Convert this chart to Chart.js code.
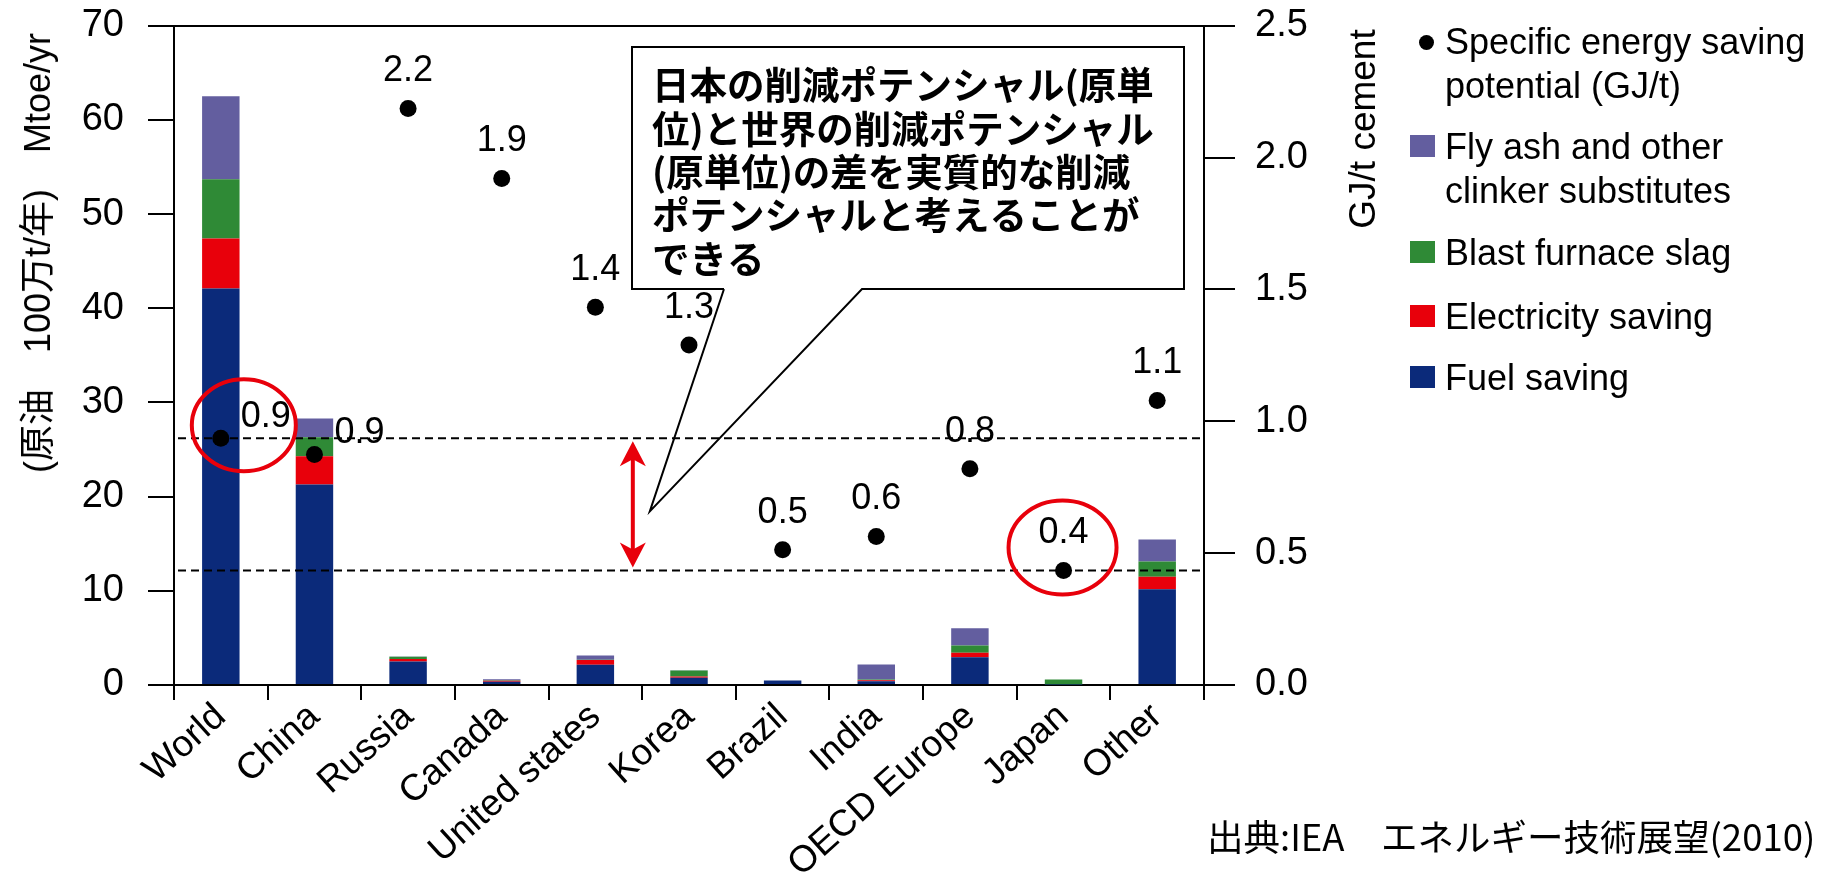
<!DOCTYPE html>
<html lang="ja">
<head>
<meta charset="utf-8">
<title>セメント産業の省エネルギーポテンシャル</title>
<script src="https://cdn.jsdelivr.net/npm/chart.js@4.4.1/dist/chart.umd.min.js"></script>
<style>
  html, body { margin: 0; padding: 0; background: #fff; }
  #wrap { position: relative; width: 1825px; height: 881px; overflow: hidden; background: #fff; }
  #chart { position: absolute; left: 0; top: 0; }
  .axis-title {
    position: absolute; white-space: nowrap; line-height: 1; color: #000;
    font-family: "Liberation Sans", "Noto Sans CJK JP", sans-serif;
    transform: translate(-50%, -50%) rotate(-90deg);
  }
  #legend { position: absolute; left: 0; top: 0; width: 1825px; height: 881px; pointer-events: none; }
  .lg-item { position: absolute; left: 1445px; font: 36px/44px "Liberation Sans", sans-serif; color: #000; white-space: nowrap; }
  .lg-mark { position: absolute; }
  #source {
    position: absolute; left: 1207px; top: 809px; white-space: nowrap; line-height: 1;
    font: 36.5px "Noto Sans CJK JP", sans-serif; color: #000;
  }
</style>
</head>
<body>
<div id="wrap">
  <canvas id="chart" width="1825" height="881"></canvas>
  <div id="leftTitle" class="axis-title" style="left:38px; top:253px; font-size:36px;"></div>
  <div id="rightTitle" class="axis-title" style="left:1362px; top:129px; font-size:37px;"></div>
  <div id="legend"></div>
  <div id="source"></div>
</div>
<script>
// Countries / regions on the category axis
const categories = ['World', 'China', 'Russia', 'Canada', 'United states', 'Korea',
                    'Brazil', 'India', 'OECD Europe', 'Japan', 'Other'];

// Saving potential by measure, Mtoe/yr (stacked bars, bottom to top)
const fuelSaving        = [42.1, 21.3, 2.50, 0.35, 2.15, 0.76, 0.48, 0.40, 2.95, 0.05, 10.17];
const electricitySaving = [ 5.3,  3.0, 0.25, 0.10, 0.50, 0.14, 0.00, 0.10, 0.47, 0.00,  1.32];
const blastFurnaceSlag  = [ 6.3,  2.0, 0.25, 0.05, 0.03, 0.64, 0.00, 0.08, 0.77, 0.53,  1.61];
const flyAshSubstitutes = [ 8.8,  2.0, 0.03, 0.10, 0.45, 0.02, 0.00, 1.60, 1.84, 0.00,  2.35];

// Specific energy saving potential, GJ/t cement (dots, right axis)
const specificSaving = [0.936, 0.874, 2.186, 1.921, 1.432, 1.289, 0.513, 0.563, 0.820, 0.434, 1.079];

// Axis ticks
const leftTicks  = [0, 10, 20, 30, 40, 50, 60, 70];
const rightTicks = [0, 0.5, 1.0, 1.5, 2.0, 2.5];

// Series names
const seriesNames = {
  specific: 'Specific energy saving\npotential (GJ/t)',
  flyAsh:   'Fly ash and other\nclinker substitutes',
  slag:     'Blast furnace slag',
  elec:     'Electricity saving',
  fuel:     'Fuel saving'
};

// Texts
const leftAxisTitle  = '(原油　100万t/年)　Mtoe/yr';
const rightAxisTitle = 'GJ/t cement';
const sourceText     = '出典:IEA　エネルギー技術展望(2010)';
const calloutLines   = [
  '日本の削減ポテンシャル(原単',
  '位)と世界の削減ポテンシャル',
  '(原単位)の差を実質的な削減',
  'ポテンシャルと考えることが',
  'できる'
];
// The gap between these two specific-saving values is highlighted
const gapFrom = 'World';
const gapTo   = 'Japan';

// Colours
const colors = {
  fuel:   '#0b2a7a',
  elec:   '#e8000b',
  slag:   '#2f8a36',
  flyAsh: '#635e9f',
  dot:    '#000000',
  mark:   '#e8000b'
};

const FONT = '"Liberation Sans", Arial, sans-serif';
const CJK_BOLD = 'bold 37.5px "Noto Sans CJK JP", sans-serif';

// Value labels beside the first two dots, above the others
const labelBeside = new Set(['World', 'China']);

const annotations = {
  id: 'annotations',
  afterDatasetsDraw(chart) {
    const { ctx, chartArea, scales } = chart;
    const y2 = scales.y2;
    const dots = chart.getDatasetMeta(0).data;

    // dashed reference lines through the two compared dots
    ctx.save();
    ctx.strokeStyle = '#000';
    ctx.lineWidth = 2;
    ctx.setLineDash([8, 5]);
    [gapFrom, gapTo].forEach(name => {
      const py = y2.getPixelForValue(specificSaving[categories.indexOf(name)]);
      ctx.beginPath();
      ctx.moveTo(chartArea.left + 4, py);
      ctx.lineTo(chartArea.right, py);
      ctx.stroke();
    });
    ctx.restore();

    // value labels
    ctx.save();
    ctx.fillStyle = '#000';
    ctx.font = '36px ' + FONT;
    ctx.textBaseline = 'middle';
    dots.forEach((pt, i) => {
      const txt = specificSaving[i].toFixed(1);
      if (labelBeside.has(categories[i])) {
        ctx.textAlign = 'left';
        ctx.fillText(txt, pt.x + 20, pt.y - 21);
      } else {
        ctx.textAlign = 'center';
        ctx.fillText(txt, pt.x, pt.y - 37);
      }
    });
    ctx.restore();
  },
  afterDraw(chart) {
    const { ctx, scales } = chart;
    const x = scales.x, y2 = scales.y2;
    const dots = chart.getDatasetMeta(0).data;
    const iFrom = categories.indexOf(gapFrom);
    const iTo = categories.indexOf(gapTo);
    const yFrom = y2.getPixelForValue(specificSaving[iFrom]);
    const yTo = y2.getPixelForValue(specificSaving[iTo]);

    // red rings around the compared dots
    ctx.save();
    ctx.strokeStyle = colors.mark;
    ctx.lineWidth = 4;
    ctx.beginPath();
    ctx.ellipse(dots[iFrom].x + 23, dots[iFrom].y - 13, 52, 46, 0, 0, Math.PI * 2);
    ctx.stroke();
    ctx.beginPath();
    ctx.ellipse(dots[iTo].x - 1, dots[iTo].y - 23, 54, 47, 0, 0, Math.PI * 2);
    ctx.stroke();

    // double-headed arrow spanning the gap
    const ax = x.getPixelForValue(4) + 0.4 * (x.getPixelForValue(5) - x.getPixelForValue(4));
    const top = yFrom + 3, bot = yTo - 3;
    const headL = 25, headW = 13, notch = 18;
    ctx.beginPath();
    ctx.moveTo(ax, top + notch - 2);
    ctx.lineTo(ax, bot - notch + 2);
    ctx.stroke();
    ctx.fillStyle = colors.mark;
    ctx.beginPath();
    ctx.moveTo(ax, top);
    ctx.lineTo(ax + headW, top + headL);
    ctx.lineTo(ax, top + notch);
    ctx.lineTo(ax - headW, top + headL);
    ctx.closePath();
    ctx.fill();
    ctx.beginPath();
    ctx.moveTo(ax, bot);
    ctx.lineTo(ax + headW, bot - headL);
    ctx.lineTo(ax, bot - notch);
    ctx.lineTo(ax - headW, bot - headL);
    ctx.closePath();
    ctx.fill();
    ctx.restore();

    // speech-bubble callout
    const bx0 = 632, by0 = 47, bx1 = 1184, by1 = 289;
    const baseL = 724, baseR = 862;
    const tipX = ax + 17, tipY = (yFrom + yTo) / 2 + 7;
    ctx.save();
    ctx.fillStyle = '#fff';
    ctx.fillRect(bx0, by0, bx1 - bx0, by1 - by0);
    ctx.strokeStyle = '#000';
    ctx.lineWidth = 2;
    ctx.beginPath();
    ctx.moveTo(baseL, by1);
    ctx.lineTo(bx0, by1);
    ctx.lineTo(bx0, by0);
    ctx.lineTo(bx1, by0);
    ctx.lineTo(bx1, by1);
    ctx.lineTo(baseR, by1);
    ctx.lineTo(tipX, tipY);
    ctx.lineTo(baseL, by1);
    ctx.stroke();
    ctx.fillStyle = '#000';
    ctx.font = CJK_BOLD;
    ctx.textAlign = 'left';
    ctx.textBaseline = 'middle';
    calloutLines.forEach((line, i) => {
      ctx.fillText(line, bx0 + 20, by0 + 38 + i * 43.4);
    });
    ctx.restore();
  }
};

const tickGrid = (len) => ({
  drawOnChartArea: false,
  drawTicks: true,
  tickLength: len,
  color: '#000',
  tickColor: '#000',
  lineWidth: 2
});

// keep the value axes flush with the plot area (no extra label padding)
const flushVertical = (width) => (s) => { s.width = width; s.paddingTop = 0; s.paddingBottom = 0; };

new Chart(document.getElementById('chart'), {
  type: 'bar',
  data: {
    labels: categories,
    datasets: [
      {
        type: 'line', label: seriesNames.specific, data: specificSaving, yAxisID: 'y2',
        showLine: false, pointRadius: 8.5, pointHoverRadius: 8.5, pointBorderWidth: 0,
        pointBackgroundColor: colors.dot, borderColor: colors.dot, order: 0
      },
      { label: seriesNames.fuel,   data: fuelSaving,        backgroundColor: colors.fuel,   yAxisID: 'y', order: 1 },
      { label: seriesNames.elec,   data: electricitySaving, backgroundColor: colors.elec,   yAxisID: 'y', order: 1 },
      { label: seriesNames.slag,   data: blastFurnaceSlag,  backgroundColor: colors.slag,   yAxisID: 'y', order: 1 },
      { label: seriesNames.flyAsh, data: flyAshSubstitutes, backgroundColor: colors.flyAsh, yAxisID: 'y', order: 1 }
    ]
  },
  options: {
    responsive: false,
    animation: false,
    devicePixelRatio: 1,
    events: [],
    layout: { padding: { left: 0, right: 0, top: 25.7, bottom: 0 }, autoPadding: false },
    datasets: { bar: { categoryPercentage: 0.8, barPercentage: 0.5, borderWidth: 0 } },
    plugins: { legend: { display: false }, tooltip: { enabled: false }, title: { display: false } },
    scales: {
      x: {
        stacked: true,
        offset: true,
        grid: Object.assign(tickGrid(15), { offset: true }),
        border: { display: true, color: '#000', width: 2 },
        ticks: {
          autoSkip: false, minRotation: 42, maxRotation: 42, padding: -5,
          color: '#000', font: { family: FONT, size: 37 }
        },
        afterFit(s) { s.height = 196; s.paddingLeft = 0; s.paddingRight = 0; }
      },
      y: {
        stacked: true,
        position: 'left',
        min: 0, max: 70,
        afterBuildTicks(s) { s.ticks = leftTicks.map(v => ({ value: v })); },
        grid: {
          drawOnChartArea: true,
          drawTicks: true,
          tickLength: 26,
          lineWidth: 2,
          tickColor: '#000',
          color: (c) => (c.tick && c.tick.value === leftTicks[leftTicks.length - 1]) ? '#000' : 'rgba(0,0,0,0)'
        },
        border: { display: true, color: '#000', width: 2 },
        ticks: { padding: 24, color: '#000', font: { family: FONT, size: 38 } },
        afterFit: flushVertical(174)
      },
      y2: {
        position: 'right',
        min: 0, max: 2.5,
        afterBuildTicks(s) { s.ticks = rightTicks.map(v => ({ value: v })); },
        grid: tickGrid(31),
        border: { display: true, color: '#000', width: 2 },
        ticks: {
          padding: 20, color: '#000', font: { family: FONT, size: 38 },
          callback: (v) => Number(v).toFixed(1)
        },
        afterFit: flushVertical(1825 - 1204)
      }
    }
  },
  plugins: [annotations]
});

// Axis titles and source line
document.getElementById('leftTitle').textContent = leftAxisTitle;
document.getElementById('rightTitle').textContent = rightAxisTitle;
document.getElementById('source').textContent = sourceText;

// Legend
const legendEntries = [
  { text: seriesNames.specific, kind: 'dot',    color: colors.dot,    top: 20 },
  { text: seriesNames.flyAsh,   kind: 'square', color: colors.flyAsh, top: 125 },
  { text: seriesNames.slag,     kind: 'square', color: colors.slag,   top: 231 },
  { text: seriesNames.elec,     kind: 'square', color: colors.elec,   top: 295 },
  { text: seriesNames.fuel,     kind: 'square', color: colors.fuel,   top: 356 }
];
const legend = document.getElementById('legend');
legendEntries.forEach(e => {
  const item = document.createElement('div');
  item.className = 'lg-item';
  item.style.top = e.top + 'px';
  e.text.split('\n').forEach((ln, k) => {
    if (k) item.appendChild(document.createElement('br'));
    item.appendChild(document.createTextNode(ln));
  });
  legend.appendChild(item);
  const mk = document.createElement('div');
  mk.className = 'lg-mark';
  mk.style.background = e.color;
  if (e.kind === 'dot') {
    mk.style.width = '15px'; mk.style.height = '15px'; mk.style.borderRadius = '50%';
    mk.style.left = '1419px'; mk.style.top = (e.top + 22 - 7.5) + 'px';
  } else {
    mk.style.width = '25px'; mk.style.height = '22px';
    mk.style.left = '1410px'; mk.style.top = (e.top + 22 - 12.5) + 'px';
  }
  legend.appendChild(mk);
});
</script>
</body>
</html>
